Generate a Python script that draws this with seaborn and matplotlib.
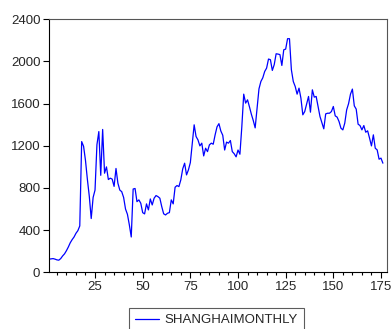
import numpy as np
import pandas as pd
import seaborn as sns
import matplotlib.pyplot as plt
from matplotlib.ticker import MultipleLocator

# monthly values (obs 1..176)
shanghai_monthly = [
    125, 128, 130, 125, 118, 115, 130, 155, 175, 205,
    240, 280, 310, 335, 370, 395, 440, 1240, 1195, 1060,
    880, 720, 510, 710, 780, 1210, 1335, 920, 1355, 940,
    1000, 880, 893, 884, 815, 985, 845, 780, 765, 710,
    600, 550, 450, 335, 790, 795, 670, 687, 655, 566,
    554, 649, 592, 696, 639, 703, 728, 718, 703, 623,
    555, 544, 560, 566, 687, 649, 807, 823, 813, 877,
    981, 1035, 924, 972, 1041, 1225, 1399, 1288, 1256, 1199,
    1225, 1104, 1177, 1145, 1209, 1225, 1215, 1304, 1380, 1410,
    1340, 1300, 1160, 1235, 1225, 1250, 1145, 1125, 1095, 1160,
    1120, 1380, 1690, 1605, 1636, 1570, 1500, 1440, 1370, 1560,
    1740, 1810, 1845, 1905, 1937, 2023, 2017, 1915, 1970, 2073,
    2070, 2065, 1962, 2111, 2117, 2216, 2216, 1921, 1810, 1763,
    1690, 1747, 1652, 1494, 1525, 1595, 1668, 1519, 1731, 1662,
    1668, 1573, 1478, 1420, 1361, 1503, 1509, 1509, 1525, 1573,
    1484, 1472, 1430, 1367, 1351, 1415, 1541, 1600, 1690, 1738,
    1579, 1548, 1405, 1392, 1351, 1392, 1329, 1342, 1273, 1199,
    1304, 1177, 1161, 1073, 1083, 1035,
]
obs = list(range(1, len(shanghai_monthly) + 1))
series_name = "SHANGHAIMONTHLY"
y_ticks = [0, 400, 800, 1200, 1600, 2000, 2400]
x_ticks = [25, 50, 75, 100, 125, 150, 175]

sns.set_style("white")
plt.rcParams["font.family"] = ["Liberation Sans", "DejaVu Sans"]

df = pd.DataFrame({"obs": obs, series_name: shanghai_monthly})

fig = plt.figure(figsize=(3.92, 3.29), dpi=100)
ax = fig.add_axes([48.7 / 392, 1 - 272.3 / 329, (386.7 - 48.7) / 392, (272.3 - 19.3) / 329])
sns.lineplot(data=df, x="obs", y=series_name, color="#0000ff", linewidth=0.9,
             label=series_name, ax=ax, legend=False)

ax.set_xlim(0.7, 178)
ax.set_ylim(0, 2400)
ax.set_xticks(x_ticks)
ax.xaxis.set_minor_locator(MultipleLocator(5))
ax.set_yticks(y_ticks)
ax.set_xlabel("")
ax.set_ylabel("")
ax.tick_params(axis="both", which="major", direction="out", length=4, width=0.8,
               color="black", labelsize=9.5, pad=2, bottom=True, left=True)
ax.tick_params(axis="x", which="minor", direction="out", length=2.5, width=0.8,
               color="black", bottom=True)
for side in ["left", "bottom"]:
    ax.spines[side].set_color("black")
    ax.spines[side].set_linewidth(0.8)
for side in ["top", "right"]:
    ax.spines[side].set_color("#555555")
    ax.spines[side].set_linewidth(0.8)

handles, labels = ax.get_legend_handles_labels()
leg = fig.legend(handles, labels, loc="upper center",
                 bbox_to_anchor=(216.5 / 392, 1 - 308 / 329),
                 frameon=True, fancybox=False, fontsize=9.5, handlelength=1.8,
                 handletextpad=0.45, borderpad=0.45, borderaxespad=0)
leg.get_frame().set_edgecolor("#333333")
leg.get_frame().set_linewidth(0.8)

fig.savefig("out.png", dpi=100)
